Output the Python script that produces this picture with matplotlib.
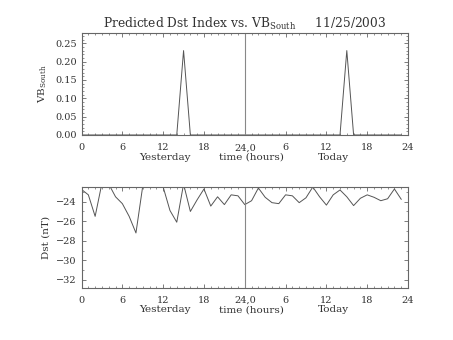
import numpy as np
import matplotlib
matplotlib.use('Agg')
import matplotlib.pyplot as plt
from matplotlib.ticker import MultipleLocator, FixedLocator

plt.rcParams['font.family'] = 'DejaVu Serif'
plt.rcParams['mathtext.fontset'] = 'dejavuserif'

# hours since start of yesterday (0..47)
hours = np.arange(48)

# VB_South, zero except two spikes
vb_south = [0.0] * 48
vb_south[15] = 0.23
vb_south[39] = 0.23

# predicted Dst (nT)
dst = [-22.75, -23.3, -25.5, -22.1, -22.2, -23.5, -24.2, -25.5, -27.2, -22.4,
       -21.5, -21.5, -22.5, -24.9, -26.1, -22.2, -25.0, -23.8, -22.7, -24.45,
       -23.5, -24.3, -23.3, -23.4, -24.3, -23.9, -22.6, -23.55, -24.1, -24.2,
       -23.3, -23.4, -24.1, -23.6, -22.5, -23.5, -24.35, -23.3, -22.8, -23.5,
       -24.4, -23.65, -23.3, -23.55, -23.9, -23.7, -22.7, -23.75]

xtick_pos = [0, 6, 12, 18, 24, 30, 36, 42, 48]
xtick_labels = ['0', '6', '12', '18', '24,0', '6', '12', '18', '24']

text_col = '#333333'
line_col = '#555555'
frame_col = '#666666'


def style_axis(ax):
    for s in ax.spines.values():
        s.set_color(frame_col)
        s.set_linewidth(0.8)
    ax.set_xlim(0, 48)
    ax.xaxis.set_major_locator(FixedLocator(xtick_pos))
    ax.set_xticklabels(xtick_labels)
    ax.xaxis.set_minor_locator(MultipleLocator(1))
    ax.tick_params(which='both', direction='in', top=True, right=True,
                   colors=frame_col, labelcolor=text_col, labelsize=7)
    ax.tick_params(which='major', length=3, width=0.6)
    ax.tick_params(which='minor', length=1.6, width=0.5)
    ax.tick_params(axis='x', pad=6)
    ax.axvline(24, color='#888888', lw=0.8)
    trans = ax.get_xaxis_transform()
    ax.text(12.3, -0.22, 'Yesterday', transform=trans,
            ha='center', va='center', fontsize=7.5, color=text_col)
    ax.text(25, -0.22, 'time (hours)', transform=trans,
            ha='center', va='center', fontsize=7.5, color=text_col)
    ax.text(37, -0.22, 'Today', transform=trans,
            ha='center', va='center', fontsize=7.5, color=text_col)


fig = plt.figure(figsize=(4.53, 3.40), dpi=100)

ax1 = fig.add_axes([0.18, 0.603, 0.7207, 0.30])
ax1.plot(hours, vb_south, color=line_col, lw=0.7)
ax1.set_ylim(0, 0.278)
ax1.yaxis.set_major_locator(MultipleLocator(0.05))
ax1.yaxis.set_minor_locator(MultipleLocator(0.01))
ax1.yaxis.set_major_formatter(matplotlib.ticker.FormatStrFormatter('%.2f'))
style_axis(ax1)
ax1.set_ylabel(r'VB$_{\rm South}$', fontsize=7.5, color=text_col, labelpad=4)
ax1.set_title(r'Predicted Dst Index vs. VB$_{\rm South}$     11/25/2003',
              fontsize=8.8, color=text_col, pad=4)

ax2 = fig.add_axes([0.18, 0.1538, 0.7207, 0.297])
ax2.plot(hours, dst, color=line_col, lw=0.7)
ax2.set_ylim(-32.8, -22.47)
ax2.yaxis.set_major_locator(MultipleLocator(2))
ax2.yaxis.set_minor_locator(MultipleLocator(1))
style_axis(ax2)
ax2.set_ylabel('Dst (nT)', fontsize=7.5, color=text_col, labelpad=4)

fig.savefig('out.png', dpi=100)
